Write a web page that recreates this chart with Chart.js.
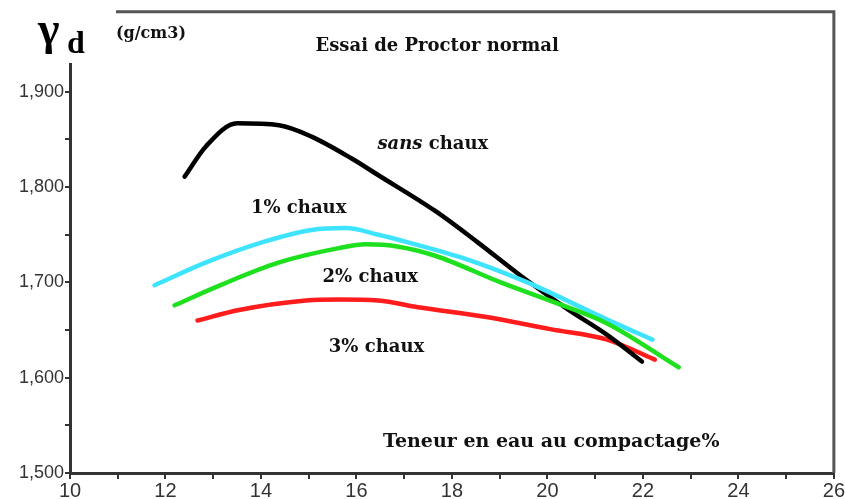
<!DOCTYPE html>
<html>
<head>
<meta charset="utf-8">
<script src="https://cdn.jsdelivr.net/npm/chart.js@4/dist/chart.umd.min.js"></script>
<style>
  html, body { margin: 0; padding: 0; background: #fff; }
  #wrap { width: 845px; height: 499px; position: relative; }
</style>
</head>
<body>
<div id="wrap"><canvas id="proctor"></canvas></div>
<script>
/* global Chart */
// teneur en eau (%) / densité sèche (g/cm3)
const sansX = [12.4, 12.85, 13.5, 14.38, 15.06, 15.9, 16.46, 17.65, 18.54, 19.44, 20.42, 21.25, 21.98];
const sansY = [1.811, 1.843, 1.867, 1.865, 1.853, 1.83, 1.8125, 1.775, 1.742, 1.707, 1.672, 1.645, 1.617];

const un_X = [11.77, 12.85, 14.02, 15.06, 15.77, 16.46, 17.08, 18.33, 19.58, 21.25, 22.2];
const un_Y = [1.697, 1.721, 1.742, 1.755, 1.757, 1.75, 1.742, 1.724, 1.7, 1.661, 1.64];

const deuxX = [12.19, 13.19, 14.38, 15.63, 16.19, 16.88, 17.65, 19.02, 20.15, 21.25, 22.75];
const deuxY = [1.676, 1.698, 1.721, 1.736, 1.74, 1.7375, 1.728, 1.7, 1.679, 1.657, 1.611];

const troisX = [12.67, 13.54, 14.94, 15.63, 16.46, 17.29, 18.69, 20.06, 21.25, 22.25];
const troisY = [1.66, 1.671, 1.681, 1.682, 1.681, 1.674, 1.664, 1.651, 1.64, 1.619];

const xTicks = [10, 11, 12, 13, 14, 15, 16, 17, 18, 19, 20, 21, 22, 23, 24, 25, 26];
const yTicks = [1.5, 1.55, 1.6, 1.65, 1.7, 1.75, 1.8, 1.85, 1.9, 1.95];

const pts = (xs, ys) => xs.map((x, i) => ({ x, y: ys[i] }));

function serie(label, xs, ys, color, order) {
  return {
    label,
    data: pts(xs, ys),
    borderColor: color,
    backgroundColor: color,
    borderWidth: 4.5,
    borderCapStyle: "round",
    pointRadius: 0,
    cubicInterpolationMode: "monotone",
    order,
  };
}

const labelsPlugin = {
  id: "labels",
  afterDraw(chart) {
    const { ctx, chartArea: a, scales } = chart;
    const sx = scales.x, sy = scales.y;
    ctx.save();

    // cadre haut + droite
    ctx.strokeStyle = "#555";
    ctx.lineWidth = 3;
    ctx.beginPath();
    ctx.moveTo(a.left, a.top);
    ctx.lineTo(a.right, a.top);
    ctx.lineTo(a.right, a.bottom);
    ctx.stroke();

    // textes sur les courbes
    ctx.fillStyle = "#111";
    ctx.textAlign = "center";
    ctx.textBaseline = "middle";
    const serif = '"DejaVu Serif", serif';
    const put = (t, x, y, f) => {
      ctx.font = f;
      ctx.fillText(t, sx.getPixelForValue(x), sy.getPixelForValue(y));
    };
    // "sans" en italique
    ctx.font = "italic bold 18px " + serif;
    const w1 = ctx.measureText("sans ").width;
    ctx.font = "bold 18px " + serif;
    const w2 = ctx.measureText("chaux").width;
    const cx = sx.getPixelForValue(17.6), cy = sy.getPixelForValue(1.845);
    ctx.textAlign = "left";
    ctx.font = "italic bold 18px " + serif;
    ctx.fillText("sans ", cx - (w1 + w2) / 2, cy);
    ctx.font = "bold 18px " + serif;
    ctx.fillText("chaux", cx - (w1 + w2) / 2 + w1, cy);
    ctx.textAlign = "center";

    put("1% chaux", 14.79, 1.778, "bold 18px " + serif);
    put("2% chaux", 16.29, 1.705, "bold 18px " + serif);
    put("3% chaux", 16.42, 1.632, "bold 18px " + serif);
    put("Teneur en eau au compactage%", 20.08, 1.532, "bold 19px " + serif);

    put("Essai de Proctor normal", 17.69, 1.948, "bold 18px " + serif);

    // cartouche gamma d
    ctx.fillStyle = "#fff";
    ctx.fillRect(0, 0, 116, 63);
    ctx.fillStyle = "#000";
    ctx.textAlign = "left";
    ctx.textBaseline = "alphabetic";
    ctx.font = 'bold 46px "Liberation Serif", serif';
    ctx.fillText("\u03b3", 38, 44);
    ctx.font = 'bold 32px "Liberation Serif", serif';
    ctx.fillText("d", 67, 53);
    ctx.font = "bold 16px " + serif;
    ctx.fillStyle = "#111";
    ctx.fillText("(g/cm3)", 116, 38);

    ctx.restore();
  },
};

new Chart(document.getElementById("proctor"), {
  type: "line",
  data: {
    datasets: [
      serie("sans chaux", sansX, sansY, "#000000", 3),
      serie("1% chaux", un_X, un_Y, "#3ee4ff", 2),
      serie("2% chaux", deuxX, deuxY, "#1ee01e", 1),
      serie("3% chaux", troisX, troisY, "#ff1c1c", 4),
    ],
  },
  options: {
    responsive: true,
    maintainAspectRatio: false,
    animation: false,
    layout: { padding: { top: 7, right: 8, left: 0, bottom: 0 } },
    plugins: { legend: { display: false }, tooltip: { enabled: false } },
    scales: {
      x: {
        type: "linear",
        min: 10,
        max: 26,
        afterFit(s) { s.height = 26; },
        afterBuildTicks(s) { s.ticks = xTicks.map((v) => ({ value: v })); },
        border: { color: "#333", width: 3 },
        grid: { drawOnChartArea: false, color: "#333", lineWidth: 2, tickLength: 6 },
        ticks: {
          color: "#333",
          padding: 0,
          maxRotation: 0,
          autoSkip: false,
          font: { family: '"Liberation Sans Narrow", "Liberation Sans", sans-serif', size: 20 },
          callback: (v) => (v % 2 === 0 ? String(v) : ""),
        },
      },
      y: {
        min: 1.5,
        max: 1.984,
        afterFit(s) { s.width = 70; },
        afterBuildTicks(s) { s.ticks = yTicks.map((v) => ({ value: v })); },
        border: { color: "#333", width: 3 },
        grid: { drawOnChartArea: false, color: "#333", lineWidth: 2, tickLength: 5 },
        ticks: {
          color: "#333",
          padding: 1,
          autoSkip: false,
          font: { family: '"Liberation Sans", sans-serif', size: 18 },
          callback: (v) => {
            const r = Math.round(v * 1000);
            return r % 100 === 0 && v < 1.95 ? (r / 1000).toFixed(3).replace(".", ",") : "";
          },
        },
      },
    },
  },
  plugins: [labelsPlugin],
});
</script>
</body>
</html>
